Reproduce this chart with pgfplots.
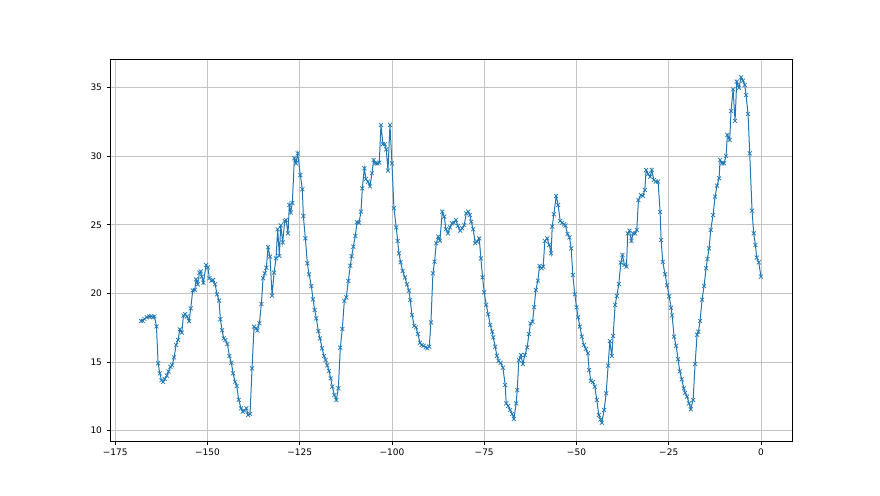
\documentclass[border=0pt]{standalone}
\usepackage{pgfplots}
\pgfplotsset{compat=1.18}
\usepackage{fontspec}
\setmainfont{DejaVu Sans}
\definecolor{mplblue}{HTML}{1F77B4}
\definecolor{gridgray}{HTML}{C4C4C4}

\begin{document}
\begin{tikzpicture}
\begin{axis}[
  at={(0,0)}, anchor=south west,
  scale only axis, width=682pt, height=382pt,
  xmin=-176.4, xmax=8.4, ymin=9.25, ymax=37.07,
  xtick={-175,-150,-125,-100,-75,-50,-25,0},
  xticklabels={−175,−150,−125,−100,−75,−50,−25,0},
  ytick={10,15,20,25,30,35},
  yticklabels={10,15,20,25,30,35},
  tick align=outside, tick pos=left,
  major tick length=3.5pt,
  every tick/.style={black,line width=0.8pt},
  axis line style={line width=0.8pt},
  grid=major,
  major grid style={gridgray,line width=0.7pt},
  tick label style={font=\fontsize{9}{11}\selectfont},
  xticklabel style={yshift=-1pt},
  yticklabel style={xshift=-1pt},
]
\addplot[mplblue,line width=1pt,mark=x,mark size=2.8pt,mark options={line width=0.7pt}] coordinates {
(-167.97,17.99) (-167.52,18.01) (-167.07,18.14) (-166.43,18.26) (-165.80,18.31) (-165.26,18.33) (-164.81,18.26) (-164.36,18.33)
(-163.81,17.60) (-163.36,14.91) (-162.91,14.18) (-162.46,13.67) (-162.01,13.55) (-161.56,13.77) (-161.02,14.01) (-160.57,14.30)
(-160.02,14.66) (-159.57,14.76) (-159.03,15.34) (-158.49,16.24) (-157.95,16.61) (-157.50,17.38) (-156.95,17.14) (-156.50,18.38)
(-156.05,18.50) (-155.51,18.31) (-154.97,17.97) (-154.52,18.91) (-153.98,20.22) (-153.43,20.25) (-153.07,21.02) (-152.62,20.66)
(-152.17,21.51) (-151.81,21.61) (-151.54,21.22) (-151.09,20.78) (-150.36,22.07) (-149.91,21.90) (-149.46,21.10) (-148.92,20.93)
(-148.47,20.98) (-147.93,20.66) (-147.39,19.93) (-146.85,19.47) (-146.49,18.11) (-146.03,17.31) (-145.58,16.73) (-145.13,16.61)
(-144.59,16.31) (-144.05,15.44) (-143.51,14.95) (-143.06,14.18) (-142.51,13.57) (-142.06,13.26) (-141.52,12.24) (-140.89,11.63)
(-140.43,11.39) (-139.98,11.46) (-139.44,11.63) (-138.99,11.14) (-138.45,11.22) (-137.91,14.54) (-137.37,17.58) (-136.82,17.46)
(-136.46,17.29) (-135.92,17.82) (-135.38,19.23) (-134.93,21.10) (-134.48,21.46) (-134.03,21.87) (-133.58,23.36) (-133.04,22.68)
(-132.49,19.83) (-131.95,21.51) (-131.41,22.55) (-130.96,24.67) (-130.51,22.72) (-130.14,24.96) (-129.60,23.72) (-129.06,25.27)
(-128.70,25.35) (-128.16,24.37) (-127.80,26.44) (-127.44,25.90) (-126.99,26.58) (-126.45,29.84) (-126.00,29.47) (-125.54,30.20)
(-124.82,28.62) (-124.28,27.58) (-124.01,25.64) (-123.47,24.01) (-122.93,22.19) (-122.47,21.39) (-121.84,20.54) (-121.39,19.57)
(-120.94,18.79) (-120.49,18.18) (-119.95,17.26) (-119.50,16.73) (-118.95,16.00) (-118.41,15.44) (-117.96,15.15) (-117.51,14.76)
(-117.06,14.35) (-116.61,13.81) (-116.16,13.21) (-115.62,12.60) (-115.07,12.24) (-114.53,13.09) (-113.99,16.05) (-113.45,17.41)
(-112.91,19.45) (-112.37,19.71) (-111.82,20.90) (-111.28,22.02) (-110.92,22.72) (-110.47,23.40) (-109.93,24.18) (-109.48,25.18)
(-108.93,25.15) (-108.39,25.95) (-108.03,27.65) (-107.49,29.11) (-107.04,28.33) (-106.50,28.14) (-105.96,27.80) (-105.41,28.75)
(-104.96,29.72) (-104.51,29.47) (-103.97,29.47) (-103.43,29.52) (-102.98,32.27) (-102.44,30.86) (-101.89,30.86) (-101.53,30.49)
(-101.08,28.94) (-100.54,32.27) (-100.00,29.47) (-99.46,26.20) (-98.83,24.81) (-98.46,23.82) (-98.10,22.92) (-97.65,22.26)
(-97.11,21.63) (-96.48,21.17) (-95.94,20.66) (-95.40,20.20) (-95.04,19.52) (-94.58,18.43) (-93.95,17.63) (-93.50,17.53)
(-92.96,17.04) (-92.42,16.41) (-91.97,16.24) (-91.42,16.19) (-90.88,16.07) (-90.43,16.00) (-89.89,16.12) (-89.44,17.89)
(-88.90,21.46) (-88.45,22.31) (-88.00,23.65) (-87.45,24.13) (-87.00,23.84) (-86.37,25.95) (-85.83,25.59) (-85.38,24.67)
(-84.84,24.37) (-84.29,24.81) (-83.75,25.10) (-83.21,25.15) (-82.67,25.35) (-82.13,24.91) (-81.50,24.57) (-80.96,24.74)
(-80.41,24.98) (-79.87,25.83) (-79.33,25.95) (-78.88,25.71) (-78.52,25.22) (-77.98,24.67) (-77.44,23.65) (-76.89,23.77)
(-76.35,24.01) (-75.90,22.55) (-75.45,21.17) (-75.00,20.08) (-74.46,19.16) (-73.92,18.48) (-73.37,17.70) (-72.83,17.21)
(-72.56,16.80) (-72.02,16.12) (-71.57,15.46) (-71.12,15.08) (-70.57,14.95) (-69.94,14.59) (-69.31,13.33) (-69.04,11.99)
(-68.50,11.80) (-67.96,11.51) (-67.42,11.22) (-66.96,10.85) (-66.33,11.99) (-66.06,12.96) (-65.61,15.15) (-65.07,15.51)
(-64.53,14.86) (-63.98,15.51) (-63.35,16.07) (-62.90,17.04) (-62.45,17.82) (-61.91,17.94) (-61.46,18.99) (-61.01,20.25)
(-60.46,20.93) (-60.01,22.00) (-59.47,21.83) (-59.02,21.95) (-58.57,23.82) (-57.94,24.01) (-57.40,23.53) (-56.86,22.92)
(-56.58,24.86) (-56.13,25.76) (-55.50,27.09) (-54.96,26.44) (-54.42,25.27) (-53.88,25.15) (-53.34,25.03) (-52.97,24.93)
(-52.43,24.33) (-51.89,24.08) (-51.44,23.28) (-50.99,21.34) (-50.45,19.93) (-49.99,18.99) (-49.54,18.26) (-49.09,17.58)
(-48.55,16.85) (-48.01,16.24) (-47.47,15.95) (-46.93,15.64) (-46.57,14.42) (-46.11,13.64) (-45.57,13.55) (-45.03,13.21)
(-44.49,12.24) (-43.95,11.14) (-43.50,10.83) (-43.14,10.58) (-42.50,11.51) (-41.96,12.72) (-41.42,14.74) (-40.97,16.53)
(-40.43,15.44) (-40.07,16.90) (-39.53,19.16) (-39.07,19.81) (-38.53,20.68) (-37.99,22.24) (-37.54,22.80) (-37.00,22.07)
(-36.46,21.95) (-36.10,24.37) (-35.64,24.57) (-35.10,23.82) (-34.65,24.37) (-34.11,24.37) (-33.66,24.62) (-33.21,26.80)
(-32.57,27.17) (-32.03,27.09) (-31.49,27.53) (-31.13,28.99) (-30.59,28.70) (-30.05,28.50) (-29.60,28.99) (-29.05,28.26)
(-28.51,28.14) (-27.88,28.14) (-27.34,25.93) (-27.07,23.89) (-26.62,22.29) (-25.99,21.39) (-25.45,20.59) (-24.90,19.79)
(-24.36,18.96) (-24.09,18.40) (-23.55,16.85) (-23.01,16.19) (-22.47,15.20) (-22.01,14.32) (-21.47,13.74) (-20.93,13.09)
(-20.57,12.77) (-20.03,12.48) (-19.49,11.99) (-19.04,11.56) (-18.40,12.24) (-17.86,14.86) (-17.32,16.99) (-16.96,17.21)
(-16.51,17.99) (-15.97,19.54) (-15.43,20.54) (-14.88,21.83) (-14.52,22.51) (-14.07,23.28) (-13.62,24.62) (-12.99,25.71)
(-12.45,27.05) (-11.91,27.85) (-11.36,28.38) (-11.09,29.72) (-10.55,29.47) (-10.01,29.47) (-9.47,30.01) (-9.11,31.54)
(-8.48,31.17) (-8.12,33.28) (-7.57,34.86) (-7.03,32.56) (-6.58,35.42) (-5.95,34.98) (-5.41,35.74) (-4.87,35.49)
(-4.41,35.18) (-4.05,34.45) (-3.51,33.07) (-3.06,30.20) (-2.43,26.03) (-1.98,24.37) (-1.52,23.53) (-1.16,22.60)
(-0.62,22.26) (0.00,21.22)
};
\end{axis}
\path[use as bounding box] (-110pt,-54pt) rectangle (770pt,441pt);
\end{tikzpicture}
\end{document}
